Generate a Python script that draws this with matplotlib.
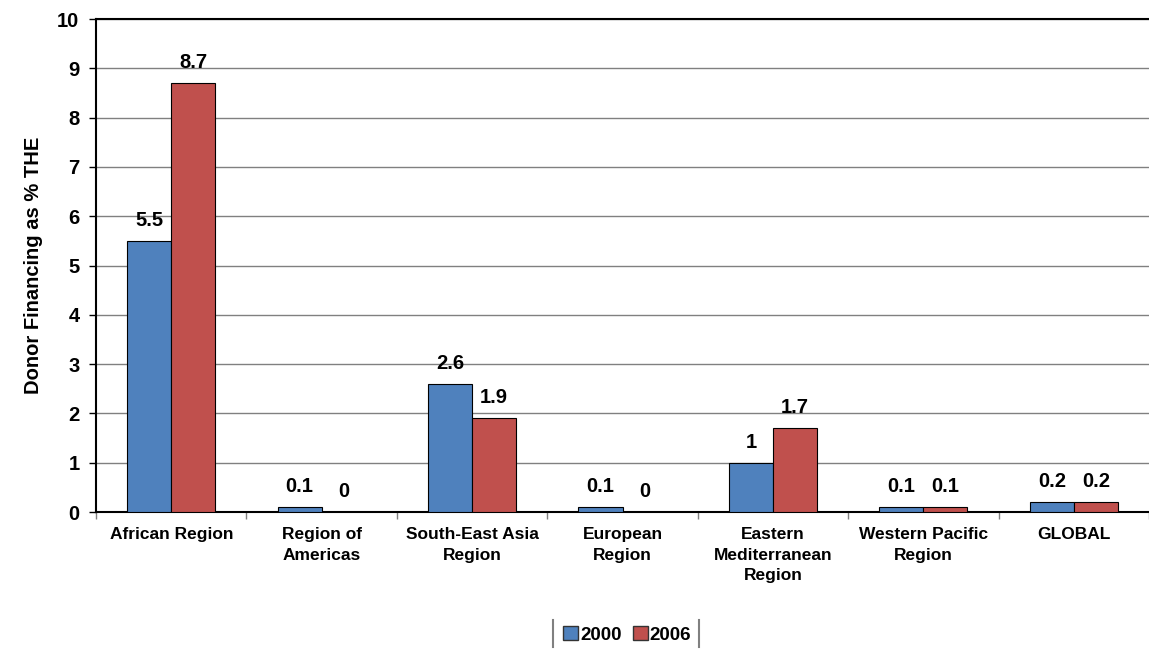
import numpy as np
import matplotlib.pyplot as plt
from matplotlib.lines import Line2D
from matplotlib.patches import Patch

plt.rcParams['font.family'] = ['Liberation Sans', 'DejaVu Sans']
plt.rcParams['font.weight'] = 'bold'

regions = ["African Region", "Region of\nAmericas", "South-East Asia\nRegion",
           "European\nRegion", "Eastern\nMediterranean\nRegion",
           "Western Pacific\nRegion", "GLOBAL"]
y2000 = [5.5, 0.1, 2.6, 0.1, 1, 0.1, 0.2]
y2006 = [8.7, 0, 1.9, 0, 1.7, 0.1, 0.2]
years = ["2000", "2006"]
colors = ["#4F81BD", "#C0504D"]

fig = plt.figure(figsize=(11.49, 6.49), dpi=100)
ax = fig.add_axes([0.0836, 0.211, 0.9164, 0.7597])

x = np.arange(len(regions))
w = 0.293
for vals, off, c in [(y2000, -w / 2, colors[0]), (y2006, w / 2, colors[1])]:
    bars = ax.bar(x + off, vals, w, color=c, edgecolor="black", linewidth=0.8, zorder=3)
    for b, v in zip(bars, vals):
        ax.annotate("{:g}".format(v), (b.get_x() + b.get_width() / 2, v),
                    xytext=(0, 8), textcoords="offset points", ha="center", va="bottom",
                    fontsize=14.5, fontweight="bold")

ax.set_xlim(-0.5, len(regions) - 0.5)
ax.set_ylim(0, 10)
ax.set_yticks(range(0, 11))
ax.tick_params(axis="y", labelsize=14.5, length=5, width=1, pad=7)
ax.yaxis.grid(True, color="#808080", linewidth=1, zorder=0)
ax.set_xticks(x)
ax.set_xticklabels(regions, fontsize=12.5, fontweight="bold", va="top", linespacing=1.45)
ax.tick_params(axis="x", length=0, pad=11)
ax.set_xticks(np.arange(-0.5, len(regions)), minor=True)
ax.tick_params(axis="x", which="minor", length=5, width=1, color="#808080")
for s in ["left", "bottom", "top"]:
    ax.spines[s].set_linewidth(1.5)
ax.spines["right"].set_visible(False)
ax.set_ylabel("Donor Financing as % THE", fontsize=14.5, fontweight="bold", labelpad=10)

handles = [Patch(facecolor=c, edgecolor="#333333") for c in colors]
fig.legend(handles, years, loc="center", bbox_to_anchor=(0.546, 0.022), ncol=2,
           frameon=False, fontsize=13.5, handlelength=0.8, handleheight=0.8,
           handletextpad=0.1, columnspacing=0.6)
for lx in [553 / 1149, 699 / 1149]:
    fig.add_artist(Line2D([lx, lx], [0.003, 0.045], color="#808080", linewidth=1.5))

fig.savefig("out.png", dpi=100)
